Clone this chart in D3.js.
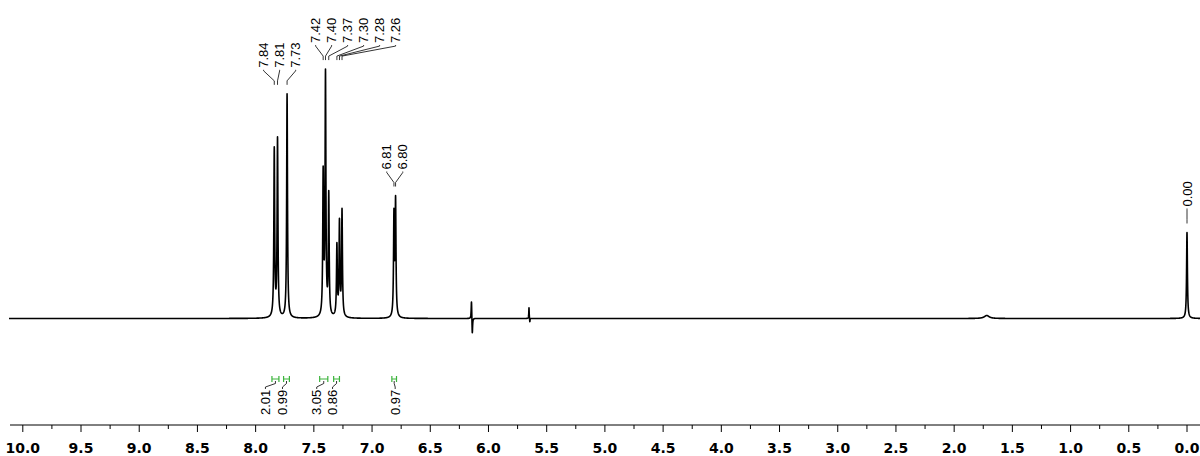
<!DOCTYPE html>
<html><head><meta charset="utf-8">
<script src="https://cdn.jsdelivr.net/npm/d3@7/dist/d3.min.js"></script>
<style>body{margin:0;background:#fff}svg{display:block}</style>
</head><body>
<svg id="chart" width="1200" height="456"></svg>
<script>
// ---- data ----
const peakShifts  = [7.840, 7.812, 7.730, 7.420, 7.400, 7.372, 7.302, 7.280, 7.258, 6.812, 6.798, 0.000];
const peakHeights = [66.5, 70.5, 89, 56, 95.5, 48, 28, 37, 42, 40, 45.5, 34.2];
const shiftLabels = ["7.84","7.81","7.73","7.42","7.40","7.37","7.30","7.28","7.26","6.81","6.80","0.00"];
const labelGroups = [[0,1,2],[3,4,5,6,7,8],[9,10],[11]];
const artifactShifts  = [6.146, 6.139, 5.652, 5.645, 1.72];
const artifactHeights = [7.6, -6.8, 4.4, -1.6, 1.2];
const artifactWidths  = [0.006, 0.006, 0.004, 0.004, 0.05];
const integralRanges = [[7.86,7.80],[7.76,7.71],[7.45,7.38],[7.33,7.28],[6.83,6.79]];
const integralValues = ["2.01","0.99","3.05","0.86","0.97"];
const axisTicks = [10,9.5,9,8.5,8,7.5,7,6.5,6,5.5,5,4.5,4,3.5,3,2.5,2,1.5,1,0.5,0];

// ---- layout ----
const svg = d3.select("#chart");
const x = d3.scaleLinear().domain([10, 0]).range([22.8, 1187]);
const y = d3.scaleLinear().domain([0, 100]).range([318.5, 67]);
const LW = 0.0085;
const labelFont = "'Liberation Sans', Arial, sans-serif";

function intensity(p){
  let s = 0;
  peakShifts.forEach((c,i)=>{ const u=(p-c)*2/LW; s += peakHeights[i]/(1+u*u); });
  artifactShifts.forEach((c,i)=>{ const u=(p-c)*2/artifactWidths[i]; s += artifactHeights[i]/(1+u*u); });
  return s;
}
const ppmGrid = d3.range(x.invert(9), x.invert(1201), -0.0005);
const spectrum = ppmGrid.map(p=>[p, intensity(p)]);

svg.append("path")
  .datum(spectrum)
  .attr("d", d3.line().x(d=>x(d[0])).y(d=>y(d[1])))
  .attr("fill","none").attr("stroke","#000").attr("stroke-width",1.6)
  .attr("stroke-linejoin","round");

// ---- peak labels ----
const spacing = 16;
let placed = [];
labelGroups.forEach(g=>{
  const px = g.map(i=>x(peakShifts[i]));
  const top = d3.min(g.map(i=>y(intensity(peakShifts[i]))));
  const mean = d3.mean(px);
  let lx = g.map((_,k)=> mean + (k-(g.length-1)/2)*spacing);
  const textY = top - 26;
  placed.forEach(pg=>{
    if (Math.abs(pg.textY - textY) < 30) {
      const minStart = pg.maxX + spacing + 4;
      if (lx[0] < minStart) { const d = minStart - lx[0]; lx = lx.map(v=>v+d); }
    }
  });
  placed.push({textY, maxX: d3.max(lx)});
  g.forEach((i,k)=>{
    const y3 = top - 9, y2 = top - 13, y1 = top - 23;
    svg.append("path")
      .attr("d", `M${lx[k]},${textY+2}L${lx[k]},${y1}L${px[k]},${y2}L${px[k]},${y3}`)
      .attr("fill","none").attr("stroke","#000").attr("stroke-width",0.8);
    svg.append("text")
      .attr("transform", `translate(${lx[k]},${textY}) rotate(-90)`)
      .attr("dy","0.35em")
      .attr("text-anchor","start")
      .attr("font-family", labelFont).attr("font-size", 13).attr("fill","#000")
      .text(shiftLabels[i]);
  });
});

// ---- integrals ----
const intLabelDx = [-10,-4,-7,-4,1];
integralRanges.forEach((r,i)=>{
  const x1 = x(r[0]), x2 = x(r[1]), cx = (x1+x2)/2;
  const lx = cx + intLabelDx[i];
  svg.append("path")
    .attr("d", `M${x1},376V382M${x1},379H${x2}M${x2},376V382`)
    .attr("fill","none").attr("stroke","#3cb43c").attr("stroke-width",1.2);
  svg.append("path")
    .attr("d", `M${cx},381V383.5L${lx},387V389`)
    .attr("fill","none").attr("stroke","#000").attr("stroke-width",0.8);
  svg.append("text")
    .attr("transform", `translate(${lx},415) rotate(-90)`)
    .attr("dy","0.35em").attr("text-anchor","start")
    .attr("font-family", labelFont).attr("font-size", 13).attr("fill","#000")
    .text(integralValues[i]);
});

// ---- axis ----
const axisY = 425;
svg.append("line").attr("x1",10).attr("x2",1200).attr("y1",axisY).attr("y2",axisY)
  .attr("stroke","#000").attr("stroke-width",1);
const minorTicks = axisTicks.slice(0,-1).map(t=>t-0.25);
svg.selectAll("line.major").data(axisTicks).join("line").attr("class","major")
  .attr("x1",d=>x(d)).attr("x2",d=>x(d)).attr("y1",axisY).attr("y2",axisY+7)
  .attr("stroke","#000").attr("stroke-width",1);
svg.selectAll("line.minor").data(minorTicks).join("line").attr("class","minor")
  .attr("x1",d=>x(d)).attr("x2",d=>x(d)).attr("y1",axisY).attr("y2",axisY+4)
  .attr("stroke","#000").attr("stroke-width",1);
svg.selectAll("text.tick").data(axisTicks).join("text").attr("class","tick")
  .attr("x",d=>x(d)).attr("y",453).attr("text-anchor","middle")
  .attr("font-family","'DejaVu Sans', sans-serif").attr("font-weight","bold")
  .attr("font-size",14).attr("fill","#000")
  .text(d=>d.toFixed(1));
</script>
</body></html>
